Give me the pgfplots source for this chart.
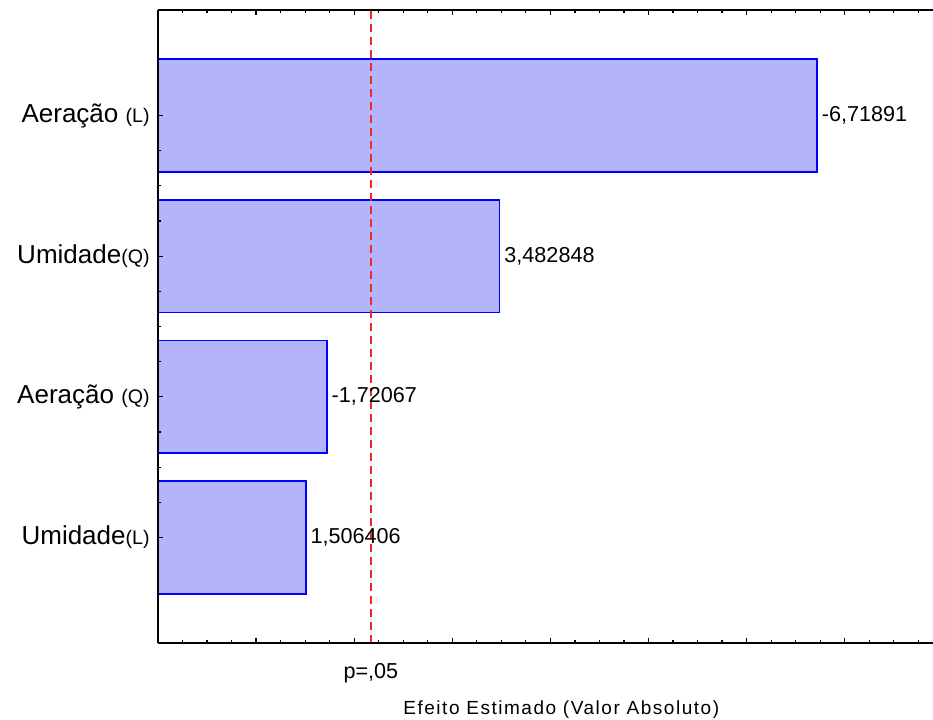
\documentclass[border=0pt]{standalone}
\usepackage{fontspec}
\setmainfont{Liberation Sans}
\usepackage{pgfplots}
\pgfplotsset{compat=1.18}
\usepackage{pgfplotstable}
\definecolor{barfill}{RGB}{180,180,250}
\definecolor{baredge}{RGB}{0,0,255}
\definecolor{pline}{RGB}{240,40,40}
\pgfplotstableread[col sep=semicolon]{
y;x;lab
4;6.71891;-6,71891
3;3.482848;3,482848
2;1.72067;-1,72067
1;1.506406;1,506406
}\effects
\begin{document}
\begin{tikzpicture}
\begin{axis}[
  at={(0,0)}, anchor=south west,
  scale only axis,
  width=392.4pt, height=316.5pt,
  xmin=0, xmax=8, ymin=0.25, ymax=4.75,
  axis x line=box, axis y line=left,
  axis line style={line width=0.8pt, -},
  axis on top,
  xtick={0,1,...,8}, xticklabels={},
  minor x tick num=3,
  ytick={1,2,3,4},
  yticklabels={{Umidade{\fontsize{9.8}{11}\selectfont(L)}},{Aeração {\fontsize{9.8}{11}\selectfont(Q)}},{Umidade{\fontsize{9.8}{11}\selectfont(Q)}},{Aeração {\fontsize{9.8}{11}\selectfont(L)}}},
  minor y tick num=3,
  tick align=inside,
  xtick pos=both,
  major tick length=2.6pt, minor tick length=1.4pt,
  tick style={line width=0.6pt, black},
  yticklabel style={font=\fontsize{13}{15}\selectfont, inner sep=0pt, xshift=-4pt},
  extra x ticks={2.17},
  extra x tick labels={p={,}05},
  extra x tick style={major tick length=0pt, xticklabel style={font=\fontsize{10.8}{12}\selectfont, yshift=-6.5pt}},
  xlabel={\addfontfeatures{LetterSpace=8}Efeito Estimado (Valor Absoluto)},
  xlabel style={font=\fontsize{9.5}{11}\selectfont, at={(axis cs:4.07,0.25)}, anchor=north, xshift=2pt, yshift=-25.5pt},
  clip=false,
]
\addplot[xbar, bar width=0.8, bar shift=0pt, draw=baredge, line width=0.8pt, fill=barfill,
  nodes near coords={\pgfplotspointmeta},
  point meta=explicit symbolic,
  nodes near coords style={anchor=west, font=\fontsize{10.8}{12}\selectfont, inner sep=2pt, black}]
  table[x=x, y=y, meta=lab] {\effects};
\addplot[pline, line width=1pt, dash pattern=on 4pt off 2.5pt, mark=none, forget plot] coordinates {(2.17,0.25) (2.17,4.75)};
\end{axis}
\pgfresetboundingbox
\path[use as bounding box] (-79pt,-38pt) rectangle (387.5pt,321.5pt);
\end{tikzpicture}
\end{document}
